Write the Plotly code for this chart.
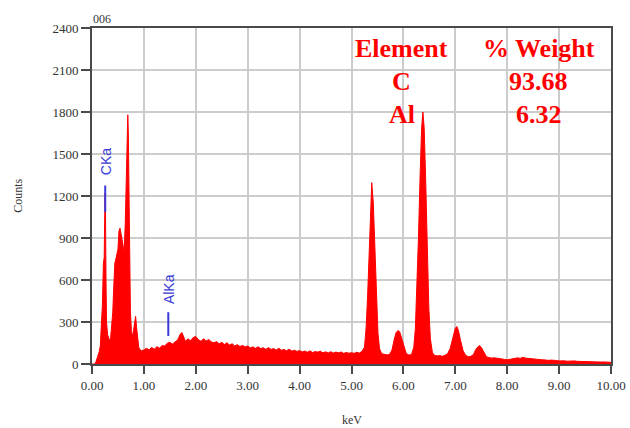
import plotly.graph_objects as go

# ---- spectrum data (keV, counts) ----
kev = [0.00, 0.06, 0.08, 0.10, 0.12, 0.14, 0.16, 0.18, 0.20, 0.22, 0.235, 0.25, 0.26, 0.27, 0.28, 0.30,
       0.32, 0.34, 0.36, 0.38, 0.40, 0.42, 0.44, 0.46, 0.48, 0.50, 0.52, 0.54, 0.56, 0.58, 0.60,
       0.62, 0.64, 0.66, 0.68, 0.69, 0.70, 0.71, 0.72, 0.74, 0.76, 0.78, 0.80, 0.82, 0.84, 0.86,
       0.88, 0.90, 0.92, 0.95, 1.00, 1.05, 1.10, 1.15, 1.20, 1.25, 1.30, 1.35, 1.40, 1.45, 1.50,
       1.55, 1.60, 1.65, 1.70, 1.73, 1.76, 1.80, 1.85, 1.90, 1.95, 2.00, 2.05, 2.10, 2.15, 2.20,
       2.25, 2.30, 2.35, 2.40, 2.45, 2.50, 2.55, 2.60, 2.65, 2.70, 2.75, 2.80, 2.85, 2.90, 2.95,
       3.00, 3.05, 3.10, 3.15, 3.20, 3.25, 3.30, 3.35, 3.40, 3.45, 3.50, 3.55, 3.60, 3.65, 3.70,
       3.75, 3.80, 3.85, 3.90, 3.95, 4.00, 4.05, 4.10, 4.15, 4.20, 4.25, 4.30, 4.35, 4.40, 4.45,
       4.50, 4.55, 4.60, 4.65, 4.70, 4.75, 4.80, 4.85, 4.90, 4.95, 5.00, 5.05, 5.10, 5.15, 5.20,
       5.25, 5.28, 5.31, 5.34, 5.37, 5.39, 5.42, 5.45, 5.48, 5.51, 5.54, 5.58, 5.62, 5.66, 5.70,
       5.74, 5.78, 5.82, 5.86, 5.90, 5.93, 5.97, 6.01, 6.05, 6.09, 6.13, 6.16, 6.20, 6.23, 6.26,
       6.29, 6.32, 6.35, 6.375, 6.40, 6.43, 6.46, 6.49, 6.52, 6.56, 6.60, 6.65, 6.70, 6.75, 6.80,
       6.85, 6.90, 6.95, 7.00, 7.03, 7.06, 7.10, 7.15, 7.20, 7.25, 7.30, 7.35, 7.40, 7.46, 7.50,
       7.55, 7.60, 7.65, 7.70, 7.75, 7.80, 7.85, 7.90, 7.95, 8.00, 8.05, 8.10, 8.15, 8.20, 8.25,
       8.30, 8.35, 8.40, 8.45, 8.50, 8.55, 8.60, 8.65, 8.70, 8.75, 8.80, 8.85, 8.90, 8.95, 9.00,
       9.05, 9.10, 9.15, 9.20, 9.25, 9.30, 9.35, 9.40, 9.45, 9.50, 9.55, 9.60, 9.65, 9.70, 9.75,
       9.80, 9.85, 9.90, 9.95, 10.00]
counts = [0, 0, 20, 45, 60, 90, 130, 250, 420, 720, 760, 1220, 1100, 600, 300, 210,
          175, 165, 190, 260, 370, 560, 720, 750, 790, 820, 950, 970, 930, 880, 830,
          800, 1000, 1300, 1700, 1780, 1650, 1200, 700, 380, 230, 200, 240, 310, 340, 260,
          170, 120, 105, 95, 100, 112, 101, 118, 106, 124, 113, 132, 128, 148, 155,
          142, 158, 172, 212, 225, 200, 162, 180, 166, 190, 196, 174, 162, 180, 165,
          175, 158, 152, 160, 144, 155, 139, 152, 135, 145, 129, 138, 125, 133, 122,
          128, 116, 122, 112, 123, 110, 116, 105, 117, 104, 110, 100, 112, 98, 104,
          94, 106, 92, 98, 90, 96, 86, 93, 84, 94, 82, 89, 85, 91, 80,
          87, 79, 88, 78, 85, 80, 86, 76, 83, 77, 81, 76, 84, 78, 90,
          120, 250, 480, 850, 1200, 1295, 1150, 800, 450, 220, 110, 75, 70, 66, 65,
          72, 100, 170, 225, 240, 228, 180, 120, 80, 66, 64, 72, 120, 250, 520,
          900, 1320, 1680, 1800, 1690, 1300, 800, 400, 180, 80, 62, 58, 60, 55, 62,
          72, 110, 190, 255, 268, 240, 170, 95, 62, 52, 55, 68, 108, 132, 120,
          80, 52, 46, 42, 44, 40, 38, 35, 33, 30, 34, 38, 41, 44, 40,
          48, 42, 40, 36, 32, 30, 28, 31, 30, 27, 26, 28, 24, 25, 22,
          25, 23, 20, 22, 21, 22, 19, 18, 20, 19, 16, 18, 17, 15, 16,
          14, 15, 13, 14, 12]

# ---- peak label markers ----
peak_labels = ["CKa", "AlKa"]
peak_kev = [0.255, 1.47]
peak_line_bottom = [1085, 200]
peak_line_top = [1275, 370]
peak_text_y = [1443, 537]

# ---- composition table ----
table_rows = [["Element", "% Weight"], ["C", "93.68"], ["Al", "6.32"]]

x_ticks = [0, 1, 2, 3, 4, 5, 6, 7, 8, 9, 10]
y_ticks = [0, 300, 600, 900, 1200, 1500, 1800, 2100, 2400]

RED = "#ff0000"
BLUE = "#3a3ad8"
AXC = "#4a4a4a"
SERIF = "Liberation Serif, Times New Roman, serif"

fig = go.Figure()
fig.add_trace(go.Scatter(x=kev, y=counts, mode="lines", fill="tozeroy",
                         line=dict(color=RED, width=1), fillcolor=RED,
                         hoverinfo="skip", showlegend=False))

for name, xk, yb, yt, ty in zip(peak_labels, peak_kev, peak_line_bottom, peak_line_top, peak_text_y):
    fig.add_shape(type="line", xref="x", yref="y", x0=xk, x1=xk, y0=yb, y1=yt,
                  line=dict(color=BLUE, width=2))
    fig.add_annotation(x=xk, y=ty, xref="x", yref="y", text=name, showarrow=False,
                       textangle=-90, xshift=1, xanchor="center", yanchor="middle",
                       font=dict(family="Liberation Sans, Arial, sans-serif", size=14, color=BLUE))

# table text positions (paper coords)
col_x = [0.597, 0.861]
row_y = [0.940, 0.842, 0.744]
for r, row in enumerate(table_rows):
    for c, txt in enumerate(row):
        fig.add_annotation(x=col_x[c], y=row_y[r], xref="paper", yref="paper",
                           text="<b>%s</b>" % txt, showarrow=False,
                           xanchor="center", yanchor="middle",
                           font=dict(family=SERIF, size=26, color=RED))

fig.add_annotation(x=0, y=1.0, xref="paper", yref="paper", text="006", showarrow=False,
                   xanchor="left", yanchor="bottom", xshift=-1,
                   font=dict(family=SERIF, size=12, color="#333333"))
fig.add_annotation(x=-0.143, y=0.5, xref="paper", yref="paper", text="Counts", showarrow=False,
                   textangle=-90, xanchor="center", yanchor="middle",
                   font=dict(family=SERIF, size=12, color="#333333"))
fig.add_annotation(x=0.5, y=-0.168, xref="paper", yref="paper", text="keV", showarrow=False,
                   xanchor="center", yanchor="middle",
                   font=dict(family=SERIF, size=12, color="#333333"))

fig.update_layout(
    width=630, height=428,
    margin=dict(l=92, r=19, t=28, b=64, pad=0),
    paper_bgcolor="white", plot_bgcolor="white",
    xaxis=dict(range=[0, 10], tickvals=x_ticks, ticktext=["%.2f" % v for v in x_ticks],
               automargin=False,
               showgrid=True, gridcolor="#cccccc", gridwidth=1.5,
               showline=True, linecolor=AXC, linewidth=2, mirror=True,
               ticks="outside", ticklen=8, tickwidth=2, tickcolor=AXC,
               zeroline=False, tickfont=dict(family=SERIF, size=13, color="#333333")),
    yaxis=dict(range=[0, 2400], tickvals=y_ticks, automargin=False,
               showgrid=True, gridcolor="#cccccc", gridwidth=1.5,
               showline=True, linecolor=AXC, linewidth=2, mirror=True,
               ticks="outside", ticklen=9, tickwidth=2, tickcolor=AXC,
               zeroline=False, tickfont=dict(family=SERIF, size=13, color="#333333")),
)

fig.write_html("out.html")
